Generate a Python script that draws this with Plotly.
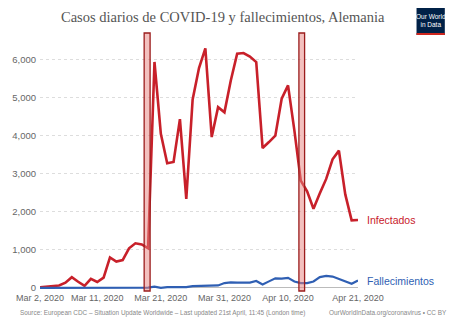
import plotly.graph_objects as go
import pandas as pd

dates = pd.date_range("2020-03-02", "2020-04-21", freq="D")

infectados = [18, 28, 39, 66, 138, 284, 163, 55, 237, 157, 271, 802, 693, 733, 1043, 1174,
              1144, 1042, 5940, 4049, 3276, 3311, 4438, 2342, 4954, 5780, 6294, 3965, 4751, 4615,
              5453, 6156, 6174, 6082, 5936, 3677, 3834, 4003, 4974, 5323, 4133, 2821, 2537, 2082,
              2486, 2866, 3380, 3609, 2458, 1775, 1785]

fallecimientos = [0, 0, 0, 0, 0, 0, 0, 0, 2, 0, 1, 0, 3, 0, 4, 4,
                  1, 8, 35, 3, 22, 25, 33, 20, 50, 55, 72, 64, 66, 128,
                  149, 140, 145, 141, 184, 92, 173, 254, 246, 266, 171, 129, 126, 170,
                  285, 315, 299, 242, 184, 110, 194]

tick_dates = ["2020-03-02", "2020-03-11", "2020-03-21", "2020-03-31", "2020-04-10", "2020-04-21"]
tick_labels = ["Mar 2, 2020", "Mar 11, 2020", "Mar 21, 2020", "Mar 31, 2020", "Apr 10, 2020", "Apr 21, 2020"]
y_ticks = [0, 1000, 2000, 3000, 4000, 5000, 6000]
y_labels = ["0", "1,000", "2,000", "3,000", "4,000", "5,000", "6,000"]

highlights = [("2020-03-18 09:00", "2020-03-19 07:30"), ("2020-04-11 17:00", "2020-04-12 14:30")]

W, H = 460, 324
L, R, T, B = 32, 102, 33, 33
PW, PH = W - L - R, H - T - B

def px(x):
    return (x - L) / PW

def py(y):
    return (H - B - y) / PH

RED = "#c8202a"
BLUE = "#2f5fb3"
SANS = "Liberation Sans, Arial, sans-serif"

fig = go.Figure()
fig.add_trace(go.Scatter(x=dates, y=infectados, mode="lines", line=dict(color=RED, width=2.6),
                         cliponaxis=False, showlegend=False, hoverinfo="skip"))
fig.add_trace(go.Scatter(x=dates, y=fallecimientos, mode="lines", line=dict(color=BLUE, width=2.2),
                         cliponaxis=False, showlegend=False, hoverinfo="skip"))

shapes = []
for a, b in highlights:
    shapes.append(dict(type="rect", xref="x", yref="paper", x0=a, x1=b, y0=0, y1=1,
                       fillcolor="rgba(232,130,125,0.5)", line=dict(color="#9b1c1c", width=1.3),
                       layer="above"))
# logo
shapes.append(dict(type="rect", xref="paper", yref="paper", x0=px(418), x1=px(447), y0=py(35), y1=py(8),
                   fillcolor="#002147", line=dict(width=0), layer="above"))
shapes.append(dict(type="rect", xref="paper", yref="paper", x0=px(418), x1=px(447), y0=py(35), y1=py(33),
                   fillcolor="#ce261e", line=dict(width=0), layer="above"))

annotations = [
    dict(text="Casos diarios de COVID-19 y fallecimientos, Alemania", xref="paper", yref="paper",
         x=px(220), y=py(17), xanchor="center", yanchor="middle", showarrow=False,
         font=dict(family="Liberation Serif, Times New Roman, serif", size=14.5, color="#555555")),
    dict(text="Our World<br>in Data", xref="paper", yref="paper", x=px(432.5), y=py(20.5),
         xanchor="center", yanchor="middle", showarrow=False,
         font=dict(family=SANS, size=6.5, color="white")),
    dict(text="Infectados", xref="x", yref="y", x=dates[-1], y=infectados[-1], xanchor="left",
         yanchor="middle", xshift=7, showarrow=False,
         font=dict(family=SANS, size=10.5, color=RED)),
    dict(text="Fallecimientos", xref="x", yref="y", x=dates[-1], y=fallecimientos[-1], xanchor="left",
         yanchor="middle", xshift=7, showarrow=False,
         font=dict(family=SANS, size=10.5, color=BLUE)),
    dict(text="Source: European CDC – Situation Update Worldwide – Last updated 21st April, 11:45 (London time)",
         xref="paper", yref="paper", x=px(9), y=py(313), xanchor="left", yanchor="middle", showarrow=False,
         font=dict(family=SANS, size=6.4, color="#888888")),
    dict(text="OurWorldInData.org/coronavirus • CC BY",
         xref="paper", yref="paper", x=px(451), y=py(313), xanchor="right", yanchor="middle", showarrow=False,
         font=dict(family=SANS, size=6.4, color="#888888")),
]

fig.update_layout(
    width=W, height=H, margin=dict(l=L, r=R, t=T, b=B, pad=0),
    paper_bgcolor="white", plot_bgcolor="white",
    shapes=shapes, annotations=annotations, showlegend=False,
    xaxis=dict(type="date", range=[dates[0], dates[-1]], tickvals=tick_dates, ticktext=tick_labels,
               showgrid=False, zeroline=False, showline=False, ticks="", tickangle=0,
               tickfont=dict(family=SANS, size=9, color="#666666"),
               fixedrange=True),
    yaxis=dict(range=[-80, 6700], tickvals=y_ticks, ticktext=y_labels, showgrid=True,
               gridcolor="#dddddd", griddash="dot", gridwidth=1, zeroline=True, zerolinecolor="#bbbbbb",
               zerolinewidth=1, ticks="", ticklabelstandoff=3,
               tickfont=dict(family=SANS, size=9.5, color="#666666"),
               fixedrange=True),
)

fig.write_html("out.html")
